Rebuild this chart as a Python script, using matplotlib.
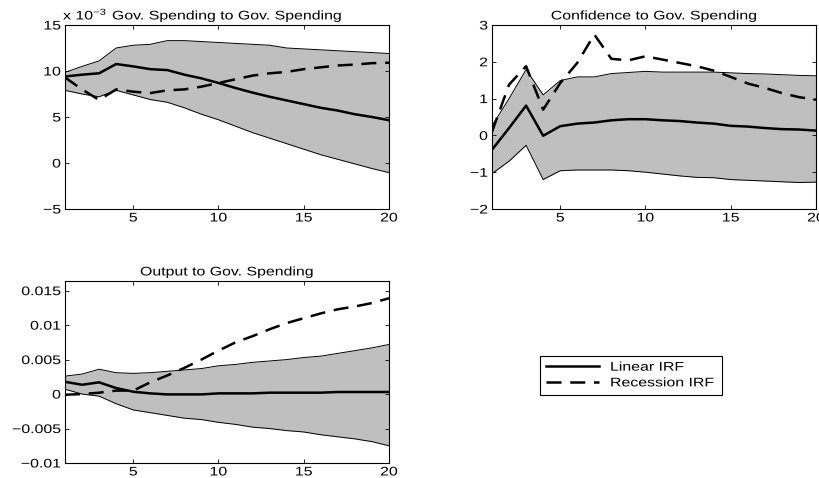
import numpy as np
import matplotlib
matplotlib.use("Agg")
import matplotlib.pyplot as plt
from matplotlib.patheffects import AbstractPathEffect
from matplotlib.transforms import Affine2D

# ---------------- data ----------------
horizon = list(range(1, 21))

# Panel 1: Gov. Spending to Gov. Spending (units of 1e-3)
gov_upper = [9.85, 10.5, 11.1, 12.5, 12.8, 12.9, 13.3, 13.3, 13.2, 13.1,
             13.0, 12.9, 12.8, 12.5, 12.4, 12.3, 12.2, 12.1, 12.0, 11.9]
gov_linear = [9.4, 9.6, 9.75, 10.76, 10.5, 10.2, 10.1, 9.6, 9.2, 8.7,
              8.15, 7.65, 7.2, 6.8, 6.4, 6.0, 5.7, 5.3, 5.0, 4.65]
gov_lower = [7.9, 7.5, 7.2, 7.9, 7.4, 6.9, 6.6, 6.0, 5.3, 4.7,
             4.0, 3.3, 2.7, 2.1, 1.5, 0.9, 0.4, -0.1, -0.6, -1.05]
gov_recession = [9.3, 8.0, 6.85, 8.0, 7.75, 7.6, 7.9, 8.0, 8.3, 8.7,
                 9.1, 9.5, 9.75, 9.9, 10.2, 10.4, 10.6, 10.7, 10.85, 10.9]

# Panel 2: Confidence to Gov. Spending
conf_upper = [0.26, 1.0, 1.79, 1.1, 1.49, 1.59, 1.59, 1.68, 1.71, 1.74,
              1.72, 1.72, 1.72, 1.72, 1.70, 1.68, 1.67, 1.65, 1.63, 1.62]
conf_linear = [-0.39, 0.2, 0.81, -0.01, 0.25, 0.32, 0.35, 0.41, 0.44, 0.44,
               0.41, 0.39, 0.35, 0.32, 0.26, 0.24, 0.2, 0.17, 0.16, 0.13]
conf_lower = [-1.04, -0.7, -0.27, -1.2, -0.96, -0.94, -0.94, -0.94, -0.96, -1.0,
              -1.05, -1.1, -1.14, -1.15, -1.2, -1.22, -1.24, -1.26, -1.28, -1.27]
conf_recession = [0.1, 1.38, 1.88, 0.7, 1.42, 1.97, 2.74, 2.08, 2.04, 2.15,
                  2.06, 1.97, 1.88, 1.76, 1.59, 1.41, 1.29, 1.15, 1.04, 0.97]

# Panel 3: Output to Gov. Spending
out_upper = [0.0026, 0.0029, 0.0036, 0.0031, 0.0030, 0.0031, 0.0033, 0.0035, 0.0037, 0.0041,
             0.0043, 0.0046, 0.0048, 0.0050, 0.0053, 0.0055, 0.0059, 0.0063, 0.0067, 0.0072]
out_linear = [0.00178, 0.00135, 0.0017, 0.00087, 0.00034, 0.0001, -0.00005, -0.00005, -0.00005, 0.0001,
              0.0001, 0.0001, 0.0002, 0.0002, 0.0002, 0.0002, 0.0003, 0.0003, 0.0003, 0.0003]
out_lower = [0.0007, 0.0, -0.0003, -0.0014, -0.0023, -0.0027, -0.0031, -0.0035, -0.0037, -0.0041,
             -0.0044, -0.0048, -0.0050, -0.0053, -0.0055, -0.0059, -0.0062, -0.0065, -0.0069, -0.0075]
out_recession = [-0.0001, 0.0, 0.0002, 0.0005, 0.0005, 0.0017, 0.0027, 0.0038, 0.0050, 0.0063,
                 0.0075, 0.0084, 0.0094, 0.0103, 0.0110, 0.0117, 0.0123, 0.0127, 0.0132, 0.0139]

titles = ["Gov. Spending to Gov. Spending", "Confidence to Gov. Spending",
          "Output to Gov. Spending"]
legend_labels = ["Linear IRF", "Recession IRF"]
out_ytick_labels = ["\u22120.01", "\u22120.005", "0", "0.005", "0.01", "0.015"]

# ---------------- style ----------------
plt.rcParams['font.family'] = ['Liberation Sans', 'DejaVu Sans']
plt.rcParams['font.size'] = 9
plt.rcParams['axes.unicode_minus'] = True
plt.rcParams['mathtext.fontset'] = 'custom'
plt.rcParams['mathtext.rm'] = 'Liberation Sans'
plt.rcParams['mathtext.it'] = 'Liberation Sans:italic'
plt.rcParams['mathtext.bf'] = 'Liberation Sans:bold'

SX = 1.27  # horizontal stretch of the (anisotropically scaled) reference text


class HStretch(AbstractPathEffect):
    """Stretch glyphs horizontally about an anchor (0 left, 0.5 center, 1 right)."""
    def __init__(self, sx, frac=0.0):
        super().__init__()
        self.sx = sx
        self.frac = frac

    def draw_path(self, renderer, gc, tpath, affine, rgbFace=None):
        ext = tpath.get_extents()
        ax0 = 0.0 if self.frac == 0 else ext.x0 + self.frac * (ext.x1 - ext.x0)
        t = Affine2D().translate(-ax0, 0).scale(self.sx, 1).translate(ax0, 0)
        renderer.draw_path(gc, tpath, t + affine, rgbFace)


fig = plt.figure(figsize=(8.19, 4.78), dpi=100)
fig.patch.set_facecolor('white')

W, H = 819.0, 478.0
def box(l, t, r, b):
    return [l / W, 1 - b / H, (r - l) / W, (b - t) / H]

ax1 = fig.add_axes(box(65, 25, 389, 209))
ax2 = fig.add_axes(box(492, 25, 816, 209))
ax3 = fig.add_axes(box(65, 281, 389, 463))

band_color = (0.75, 0.75, 0.75)

def panel(ax, up, lin, lo, rec):
    x = np.array(horizon)
    ax.fill_between(x, lo, up, color=band_color, lw=0, zorder=1)
    ax.plot(x, up, color='black', lw=0.7, zorder=2)
    ax.plot(x, lo, color='black', lw=0.7, zorder=2)
    l1, = ax.plot(x, lin, color='black', lw=1.8, zorder=3, label=legend_labels[0])
    l2, = ax.plot(x, rec, color='black', lw=1.8, dashes=(6, 3.5), zorder=3,
                  label=legend_labels[1])
    ax.set_xlim(1, 20)
    ax.set_xticks([5, 10, 15, 20])
    ax.tick_params(direction='in', top=True, right=True, length=3, width=0.6,
                   labelsize=9)
    ax.tick_params(axis='x', pad=2.5)
    ax.tick_params(axis='y', pad=3)
    for s in ax.spines.values():
        s.set_linewidth(0.8)
    return l1, l2

def stretch_ticks(ax):
    for t in ax.get_xticklabels():
        t.set_path_effects([HStretch(SX, 0.5)])
    for t in ax.get_yticklabels():
        t.set_path_effects([HStretch(SX, 1.0)])

panel(ax1, gov_upper, gov_linear, gov_lower, gov_recession)
ax1.set_ylim(-5, 15)
ax1.set_yticks([-5, 0, 5, 10, 15])
stretch_ticks(ax1)
ax1.text(-0.006, 1.0 + 5.5 / 184, r"x 10$^{-3}$", transform=ax1.transAxes,
         ha='left', va='baseline', fontsize=9,
         path_effects=[HStretch(SX, 0.0)])
t1 = ax1.set_title(titles[0], fontsize=9, pad=4)
t1.set_path_effects([HStretch(SX, 0.5)])

panel(ax2, conf_upper, conf_linear, conf_lower, conf_recession)
ax2.set_ylim(-2, 3)
ax2.set_yticks([-2, -1, 0, 1, 2, 3])
stretch_ticks(ax2)
t2 = ax2.set_title(titles[1], fontsize=9, pad=4)
t2.set_path_effects([HStretch(SX, 0.5)])

l1, l2 = panel(ax3, out_upper, out_linear, out_lower, out_recession)
ax3.set_ylim(-0.01, 0.0164)
ax3.set_yticks([-0.01, -0.005, 0, 0.005, 0.01, 0.015])
ax3.set_yticklabels(out_ytick_labels)
stretch_ticks(ax3)
t3 = ax3.set_title(titles[2], fontsize=9, pad=4)
t3.set_path_effects([HStretch(SX, 0.5)])

leg = fig.legend([l1, l2], legend_labels, loc='upper left',
                 bbox_to_anchor=(540 / W, 1 - 389 / H, 182 / W, 33 / H),
                 mode='expand', fontsize=9,
                 frameon=True, fancybox=False, framealpha=1, edgecolor='black',
                 handlelength=4.3, borderpad=0.45, labelspacing=0.3,
                 handletextpad=0.85, borderaxespad=0)
leg.get_frame().set_linewidth(0.8)
for t in leg.get_texts():
    t.set_path_effects([HStretch(SX, 0.0)])

fig.savefig("out.png", dpi=100, facecolor='white')
